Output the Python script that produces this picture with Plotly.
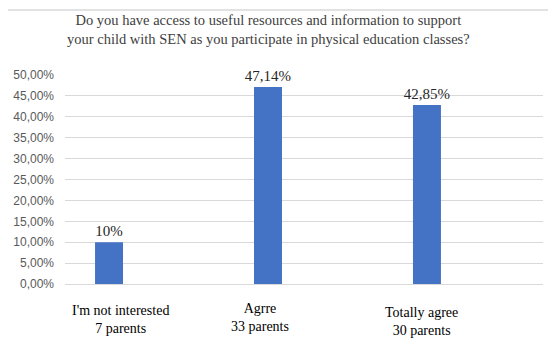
import plotly.graph_objects as go

categories = ["I'm not interested", "Agrre", "Totally agree"]
counts = ["7 parents", "33 parents", "30 parents"]
values = [10.0, 47.14, 42.85]
value_labels = ["10%", "47,14%", "42,85%"]
tick_vals = [0, 5, 10, 15, 20, 25, 30, 35, 40, 45, 50]
tick_text = ["0,00%", "5,00%", "10,00%", "15,00%", "20,00%", "25,00%",
             "30,00%", "35,00%", "40,00%", "45,00%", "50,00%"]
title_text = ("Do you have access to useful resources and information to support<br>"
              "your child with SEN as you participate in physical education classes?")

# page body margin offset (default 8px)
OFF = 8
W, H = 556 - OFF, 349 - OFF
# target plot area in window pixels: x 65..543, y 75..284
PL, PR, PT, PB = 65, 543, 75, 284
ML = PL - OFF
MR = W - (PR - OFF)
MT = PT - OFF
MB = H - (PB - OFF)
pw, ph = PR - PL, PB - PT

def px_x(p):
    return (p - PL) / pw

def px_y(p):
    return (PB - p) / ph

fig = go.Figure()
fig.add_trace(go.Bar(
    x=list(range(len(categories))), y=values,
    marker=dict(color="#4472C4", line=dict(width=0)),
    width=0.176,
    text=value_labels, textposition="outside", cliponaxis=False,
    constraintext="none",
    textfont=dict(family="Liberation Serif", size=15, color="#262626"),
))

label_shifts = [11, -8, -5]
label_tops = [301, 299, 303]
for i, (c, n) in enumerate(zip(categories, counts)):
    fig.add_annotation(
        x=i, xref="x", y=px_y(label_tops[i]), yref="paper",
        xshift=label_shifts[i], yanchor="top", xanchor="center",
        text=c + "<br>" + n, showarrow=False, align="center",
        font=dict(family="Liberation Serif", size=14, color="#000000"),
    )

fig.add_annotation(
    x=px_x(268), xref="paper", y=px_y(10), yref="paper",
    yanchor="top", xanchor="center", text=title_text, showarrow=False,
    align="center", font=dict(family="Liberation Serif", size=14.5, color="#404040"),
)

fig.add_shape(type="rect", xref="paper", yref="paper",
              x0=px_x(7), x1=px_x(570), y0=px_y(360), y1=px_y(10),
              line=dict(color="#d9d9d9", width=1.5), fillcolor="rgba(0,0,0,0)")

fig.update_layout(
    width=W, height=H,
    margin=dict(l=ML, r=MR, t=MT, b=MB),
    paper_bgcolor="white", plot_bgcolor="white",
    showlegend=False,
    xaxis=dict(range=[-0.277, 2.73], showticklabels=False, showgrid=False,
               zeroline=False, showline=False, ticks=""),
    yaxis=dict(range=[0, 50], tickvals=tick_vals, ticktext=tick_text,
               automargin=False, ticklabelstandoff=10,
               showgrid=True, gridcolor="#d9d9d9", gridwidth=1,
               zeroline=True, zerolinecolor="#d9d9d9", zerolinewidth=1,
               showline=False, ticks="", ticklen=0,
               tickfont=dict(family="Liberation Sans", size=12, color="#595959")),
)
fig.write_html("out.html")
